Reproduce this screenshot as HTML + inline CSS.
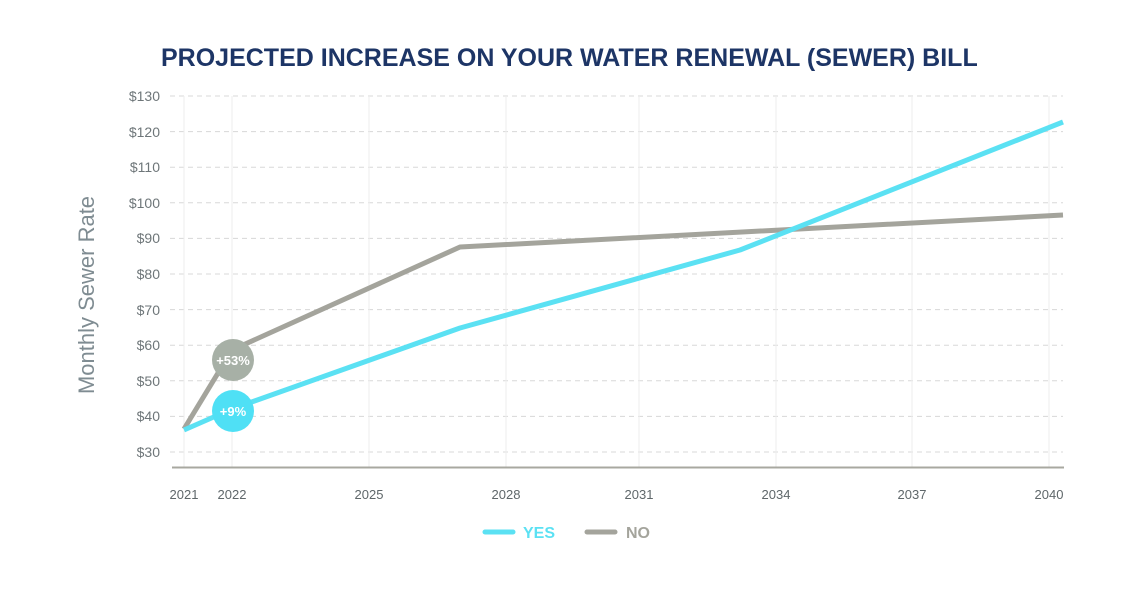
<!DOCTYPE html>
<html><head><meta charset="utf-8"><style>
body{margin:0;background:#fff;}
svg{display:block;font-family:"Liberation Sans",sans-serif;}
</style></head><body>
<svg width="1140" height="592" viewBox="0 0 1140 592">
<rect width="1140" height="592" fill="#fff"/>
<text x="161" y="66" font-size="25" font-weight="bold" fill="#1d3566">PROJECTED INCREASE ON YOUR WATER RENEWAL (SEWER) BILL</text>
<text transform="translate(94,295) rotate(-90)" text-anchor="middle" font-size="22" fill="#7f8c92">Monthly Sewer Rate</text>
<g stroke="#d8d8d8" stroke-width="1" stroke-dasharray="5,4">
<line x1="170" x2="1063" y1="96" y2="96"/><line x1="170" x2="1063" y1="131.6" y2="131.6"/>
<line x1="170" x2="1063" y1="167.2" y2="167.2"/><line x1="170" x2="1063" y1="202.8" y2="202.8"/>
<line x1="170" x2="1063" y1="238.4" y2="238.4"/><line x1="170" x2="1063" y1="274" y2="274"/>
<line x1="170" x2="1063" y1="309.6" y2="309.6"/><line x1="170" x2="1063" y1="345.2" y2="345.2"/>
<line x1="170" x2="1063" y1="380.8" y2="380.8"/><line x1="170" x2="1063" y1="416.4" y2="416.4"/>
<line x1="170" x2="1063" y1="452" y2="452"/>
</g>
<g stroke="#eeeeee" stroke-width="1">
<line x1="184" x2="184" y1="96" y2="467"/><line x1="232" x2="232" y1="96" y2="467"/>
<line x1="369" x2="369" y1="96" y2="467"/><line x1="506" x2="506" y1="96" y2="467"/>
<line x1="639" x2="639" y1="96" y2="467"/><line x1="776" x2="776" y1="96" y2="467"/>
<line x1="912" x2="912" y1="96" y2="467"/><line x1="1049" x2="1049" y1="96" y2="467"/>
</g>
<line x1="172" x2="1064" y1="467.5" y2="467.5" stroke="#a8a8a0" stroke-width="2"/>
<g font-size="14" fill="#6e7679" text-anchor="end">
<text x="160" y="101">$130</text><text x="160" y="137">$120</text><text x="160" y="172">$110</text>
<text x="160" y="208">$100</text><text x="160" y="243">$90</text><text x="160" y="279">$80</text>
<text x="160" y="315">$70</text><text x="160" y="350">$60</text><text x="160" y="386">$50</text>
<text x="160" y="421">$40</text><text x="160" y="457">$30</text>
</g>
<g font-size="13" fill="#5f676a" text-anchor="middle">
<text x="184" y="499">2021</text><text x="232" y="499">2022</text><text x="369" y="499">2025</text>
<text x="506" y="499">2028</text><text x="639" y="499">2031</text><text x="776" y="499">2034</text>
<text x="912" y="499">2037</text><text x="1049" y="499">2040</text>
</g>
<polyline points="184,429 232,350 460,247 1063,215" fill="none" stroke="#a4a49c" stroke-width="5" stroke-linejoin="round"/>
<polyline points="184,430 232,409 460,328 740,250 1063,122" fill="none" stroke="#5be1f3" stroke-width="5" stroke-linejoin="round"/>
<circle cx="233" cy="360" r="21" fill="#a7b0a6"/>
<text x="233" y="365" font-size="13" fill="#fff" text-anchor="middle" font-weight="bold">+53%</text>
<circle cx="233" cy="411" r="21" fill="#4fe0f5"/>
<text x="233" y="416" font-size="13" fill="#fff" text-anchor="middle" font-weight="bold">+9%</text>
<line x1="485" x2="513" y1="532" y2="532" stroke="#5be1f3" stroke-width="5" stroke-linecap="round"/>
<text x="523" y="538" font-size="16" fill="#5be1f3" font-weight="bold">YES</text>
<line x1="587" x2="615" y1="532" y2="532" stroke="#a4a49c" stroke-width="5" stroke-linecap="round"/>
<text x="626" y="538" font-size="16" fill="#a4a49c" font-weight="bold">NO</text>
</svg>
</body></html>
